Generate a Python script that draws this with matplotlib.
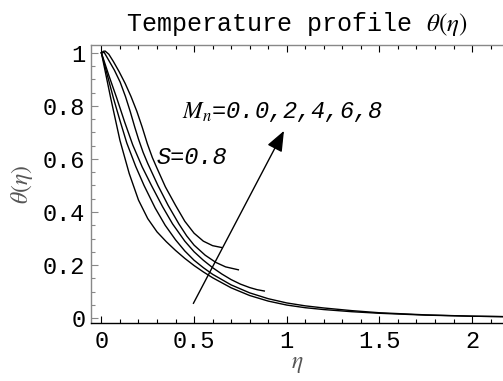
import matplotlib
matplotlib.use('Agg')
import matplotlib.pyplot as plt
from matplotlib.ticker import FixedLocator, MultipleLocator

plt.rcParams['font.family'] = ['Liberation Mono', 'DejaVu Sans']
plt.rcParams['mathtext.fontset'] = 'stix'

# temperature profiles theta(eta) for M_n = 0, 2, 4, 6, 8 (S = 0.8)
eta_m0 = [0, 0.05, 0.1, 0.15, 0.2, 0.25, 0.3, 0.35, 0.4, 0.45, 0.5, 0.55, 0.6, 0.7,
          0.8, 0.9, 1.0, 1.1, 1.2, 1.35, 1.5, 1.75, 2.0, 2.2]
theta_m0 = [1.0, 0.83, 0.67, 0.545, 0.445, 0.375, 0.325, 0.288, 0.255, 0.225, 0.198,
            0.174, 0.152, 0.114, 0.085, 0.064, 0.049, 0.039, 0.032, 0.024, 0.018,
            0.011, 0.007, 0.005]

eta_m2 = [0, 0.065, 0.1, 0.137, 0.185, 0.23, 0.29, 0.344, 0.4, 0.45, 0.5, 0.55, 0.6,
          0.7, 0.8, 0.9, 1.0, 1.1, 1.2, 1.35, 1.5, 1.75, 2.0, 2.2]
theta_m2 = [1.0, 0.829, 0.745, 0.66, 0.572, 0.5, 0.415, 0.35, 0.295, 0.253, 0.218,
            0.19, 0.165, 0.125, 0.095, 0.073, 0.057, 0.046, 0.038, 0.028, 0.02,
            0.012, 0.007, 0.005]

eta_m4 = [0, 0.04, 0.083, 0.125, 0.169, 0.22, 0.27, 0.33, 0.384, 0.45, 0.5, 0.55, 0.6,
          0.65, 0.7, 0.75, 0.8, 0.84, 0.879]
theta_m4 = [1.0, 0.915, 0.829, 0.74, 0.653, 0.57, 0.5, 0.42, 0.355, 0.29, 0.25, 0.218,
            0.19, 0.166, 0.145, 0.128, 0.115, 0.107, 0.102]

eta_m6 = [0, 0.015, 0.038, 0.07, 0.101, 0.13, 0.155, 0.18, 0.2, 0.225, 0.25, 0.305,
          0.36, 0.418, 0.46, 0.5, 0.56, 0.617, 0.67, 0.739]
theta_m6 = [1.0, 1.002, 0.974, 0.935, 0.89, 0.835, 0.78, 0.72, 0.675, 0.625, 0.583,
            0.5, 0.425, 0.355, 0.31, 0.275, 0.237, 0.21, 0.193, 0.182]

eta_m8 = [0, 0.01, 0.02, 0.04, 0.065, 0.095, 0.128, 0.16, 0.191, 0.22, 0.248, 0.275,
          0.3, 0.345, 0.4, 0.45, 0.5, 0.55, 0.6, 0.649]
theta_m8 = [1.0, 1.006, 1.007, 0.995, 0.967, 0.93, 0.885, 0.835, 0.78, 0.72, 0.657,
            0.605, 0.565, 0.495, 0.425, 0.365, 0.32, 0.29, 0.273, 0.266]

profiles = [(eta_m0, theta_m0), (eta_m2, theta_m2), (eta_m4, theta_m4),
            (eta_m6, theta_m6), (eta_m8, theta_m8)]

xticks = [0, 0.5, 1, 1.5, 2]
xtick_labels = ['0', '0.5', '1', '1.5', '2']
yticks = [0, 0.2, 0.4, 0.6, 0.8, 1]
ytick_labels = ['0', '0.2', '0.4', '0.6', '0.8', '1']

arrow_tail = (0.496, 0.055)
arrow_tip = (0.985, 0.706)

fig = plt.figure(figsize=(5.03, 3.81), dpi=100)
ax = fig.add_axes([0.181, 0.152, 0.819, 0.730])

for eta, theta in profiles:
    ax.plot(eta, theta, color='black', lw=1.0, solid_joinstyle='round')

ax.annotate('', xy=arrow_tip, xytext=arrow_tail,
            arrowprops=dict(arrowstyle='-|>,head_length=0.5,head_width=0.2',
                            color='black', lw=1.0, mutation_scale=25,
                            shrinkA=0, shrinkB=0))

ax.text(0.436, 0.777, r'$M_n$=0.0,2,4,6,8', fontsize=17, style='italic',
        va='center', ha='left')
ax.text(0.30, 0.604, 'S=0.8', fontsize=17, style='italic', va='center', ha='left')

ax.set_xlim(-0.056, 2.167)
ax.set_ylim(-0.019, 1.030)

ax.xaxis.set_major_locator(FixedLocator(xticks))
ax.set_xticklabels(xtick_labels)
ax.xaxis.set_minor_locator(MultipleLocator(0.1))
ax.yaxis.set_major_locator(FixedLocator(yticks))
ax.set_yticklabels(ytick_labels)
ax.yaxis.set_minor_locator(MultipleLocator(0.05))

ax.spines['right'].set_visible(False)
ax.spines['left'].set_color('#888888')
ax.spines['top'].set_color('#888888')
ax.spines['bottom'].set_color('black')
for s in ax.spines.values():
    s.set_linewidth(1.0)

ax.tick_params(axis='x', which='both', direction='in', top=True, bottom=True,
               labelsize=17, pad=5)
ax.tick_params(axis='y', which='both', direction='in', left=True, right=False,
               labelsize=17, pad=4, color='#888888')
ax.tick_params(which='major', length=5, width=0.8)
ax.tick_params(which='minor', length=3, width=0.8)

ax.set_xlabel(r'$\eta$', fontsize=17, color='#555555', labelpad=-1)
ax.set_ylabel(r'$\theta(\eta)$', fontsize=17, color='#555555', labelpad=6)
ax.set_title(r'Temperature profile $\theta(\eta)$', fontsize=18, pad=10)

fig.savefig('out.png', dpi=100)
